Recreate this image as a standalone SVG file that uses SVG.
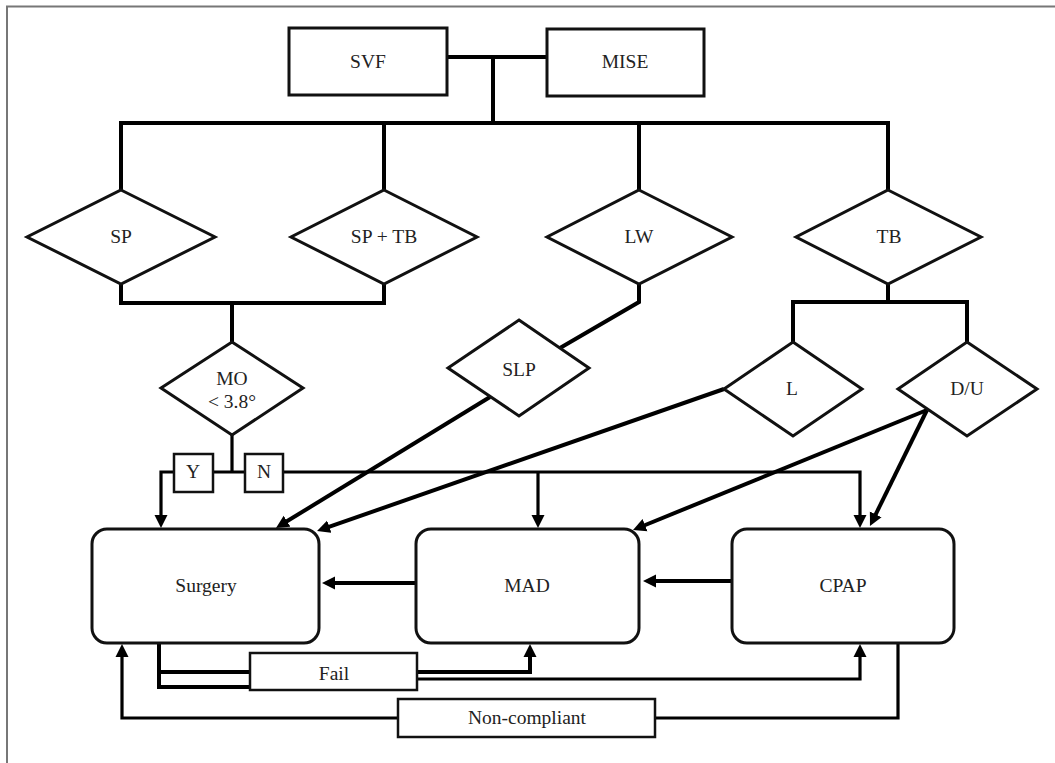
<svg xmlns="http://www.w3.org/2000/svg" width="1055" height="763" viewBox="0 0 1055 763">
<style>
.shape{fill:#fff;stroke:#111;stroke-width:3}
.lbl{fill:#fff;stroke:#111;stroke-width:2.5}
.ln{fill:none;stroke:#000;stroke-width:4;stroke-linejoin:miter}
.thin{stroke-width:3.2}
text{font-family:"Liberation Serif","Times New Roman",serif;font-size:19.5px;fill:#222;text-anchor:middle}
</style>
<defs>
<marker id="arr" viewBox="0 0 14 14" markerWidth="14" markerHeight="14" refX="5" refY="7" orient="auto" markerUnits="userSpaceOnUse">
<path d="M0,0.5 L13,7 L0,13.5 z" fill="#000"/>
</marker>
</defs>
<rect width="1055" height="763" fill="#fff"/>
<path d="M7,763 V6.5 H1055" fill="none" stroke="#777" stroke-width="2"/>

<g id="connectors">
<path class="ln" d="M447,57 H547 M493,57 V123"/>
<path class="ln" d="M121,190 V123 H888 V190 M384,123 V190 M639,123 V190"/>
<path class="ln" d="M121,284 V303 H384 V284 M232,303 V342"/>
<path class="ln" d="M639,284 V302 L560,348"/>
<path class="ln" d="M888,284 V302 M793,342 V302 H967 V342"/>
<path class="ln thin" d="M232,435 V472"/>
<path class="ln thin" d="M232,472 H161 V520" marker-end="url(#arr)"/>
<path class="ln thin" d="M232,472 H860 V520" marker-end="url(#arr)"/>
<path class="ln thin" d="M538,472 V520" marker-end="url(#arr)"/>
<path class="ln" d="M490,397 L282.8,523.8" marker-end="url(#arr)"/>
<path class="ln" d="M724,389 L324.6,528.4" marker-end="url(#arr)"/>
<path class="ln" d="M927,410 L640.4,527" marker-end="url(#arr)"/>
<path class="ln" d="M927,410 L873.5,518.8" marker-end="url(#arr)"/>
<path class="ln" d="M416,583 H330" marker-end="url(#arr)"/>
<path class="ln" d="M732,581 H651" marker-end="url(#arr)"/>
<path class="ln" d="M159,643 V687 H250 M159,672 H250"/>
<path class="ln" d="M417,672 H530 V652" marker-end="url(#arr)"/>
<path class="ln thin" d="M417,679 H860 V652" marker-end="url(#arr)"/>
<path class="ln thin" d="M898,643 V718 H655"/>
<path class="ln thin" d="M398,718 H122 V652" marker-end="url(#arr)"/>
</g>

<g id="svf"><rect class="shape" x="289" y="28" width="158" height="67"/><text x="368" y="68">SVF</text></g>
<g id="mise"><rect class="shape" x="547" y="29" width="157" height="67"/><text x="625" y="68">MISE</text></g>
<g id="sp"><polygon class="shape" points="121,190 215,237 121,284 27,237"/><text x="121" y="243">SP</text></g>
<g id="sptb"><polygon class="shape" points="384,190 477,237 384,284 291,237"/><text x="384" y="243">SP + TB</text></g>
<g id="lw"><polygon class="shape" points="639,190 732,237 639,284 547,237"/><text x="639" y="243">LW</text></g>
<g id="tb"><polygon class="shape" points="888,190 981,237 888,284 796,237"/><text x="889" y="243">TB</text></g>
<g id="mo"><polygon class="shape" points="232,342 303,388 232,435 161,388"/><text x="232" y="385">MO</text><text x="232" y="408">&lt; 3.8°</text></g>
<g id="slp"><polygon class="shape" points="519,320 589,368 519,416 448,368"/><text x="519" y="376">SLP</text></g>
<g id="l"><polygon class="shape" points="793,342 862,389 793,436 724,389"/><text x="792" y="395">L</text></g>
<g id="du"><polygon class="shape" points="967,342 1037,389 967,436 898,389"/><text x="967" y="395">D/U</text></g>
<g id="y"><rect class="lbl" x="174" y="454" width="39" height="38"/><text x="193" y="478">Y</text></g>
<g id="n"><rect class="lbl" x="245" y="454" width="38" height="38"/><text x="264" y="478">N</text></g>
<g id="surgery"><rect class="shape" x="92" y="529" width="227" height="114" rx="15"/><text x="206" y="592">Surgery</text></g>
<g id="mad"><rect class="shape" x="416" y="529" width="223" height="114" rx="15"/><text x="527" y="592">MAD</text></g>
<g id="cpap"><rect class="shape" x="732" y="529" width="222" height="114" rx="15"/><text x="843" y="592">CPAP</text></g>
<g id="fail"><rect class="lbl" x="250" y="653" width="167" height="37"/><text x="334" y="680">Fail</text></g>
<g id="noncompliant"><rect class="lbl" x="398" y="699" width="257" height="38"/><text x="527" y="724">Non-compliant</text></g>
</svg>
